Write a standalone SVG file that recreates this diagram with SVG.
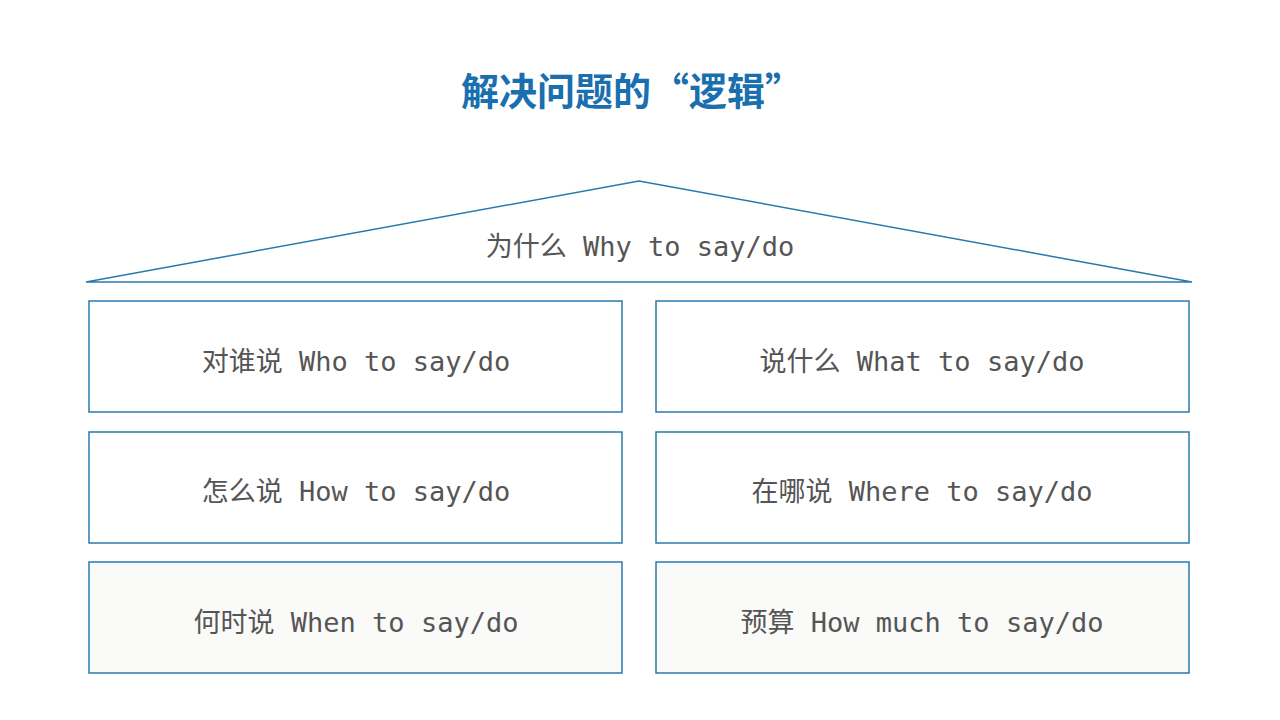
<svg xmlns="http://www.w3.org/2000/svg" width="1280" height="720" viewBox="0 0 1280 720">
<style>
.b{fill:#fff;stroke:#2a79ad;stroke-width:1.5}
.b2{fill:#fafaf8;stroke:#2a79ad;stroke-width:1.5}
.t{font-family:"DejaVu Sans Mono","Noto Sans CJK SC",monospace;font-size:27px;fill:#555;text-anchor:middle;dominant-baseline:central}
</style>
<rect width="1280" height="720" fill="#fff"/>
<text x="632" y="88" font-family="Noto Sans CJK SC, sans-serif" font-size="38" font-weight="bold" fill="#1a6fae" text-anchor="middle" dominant-baseline="central">解决问题的“逻辑”</text>
<g id="roof"><polygon points="86,282 639,181 1192,282" fill="#fff" stroke="#2a79ad" stroke-width="1.5"/><text class="t" x="640" y="246">为什么 Why to say/do</text></g>
<g id="n1"><rect class="b" x="89" y="301" width="533" height="111"/><text class="t" x="356" y="361">对谁说 Who to say/do</text></g>
<g id="n2"><rect class="b" x="656" y="301" width="533" height="111"/><text class="t" x="922" y="361">说什么 What to say/do</text></g>
<g id="n3"><rect class="b" x="89" y="432" width="533" height="111"/><text class="t" x="356" y="491">怎么说 How to say/do</text></g>
<g id="n4"><rect class="b" x="656" y="432" width="533" height="111"/><text class="t" x="922" y="491">在哪说 Where to say/do</text></g>
<g id="n5"><rect class="b2" x="89" y="562" width="533" height="111"/><text class="t" x="356" y="622">何时说 When to say/do</text></g>
<g id="n6"><rect class="b2" x="656" y="562" width="533" height="111"/><text class="t" x="922" y="622">预算 How much to say/do</text></g>
<g id="connectors"/>
</svg>
